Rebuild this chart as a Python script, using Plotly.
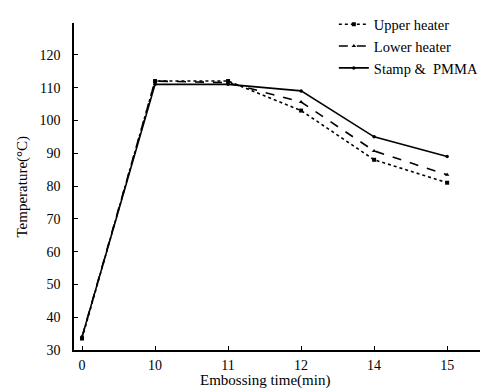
import plotly.graph_objects as go

times = ["0", "10", "11", "12", "14", "15"]
upper_heater = [33.5, 112, 112, 103, 88, 81]
lower_heater = [34, 112, 111.5, 105.6, 90.7, 83.4]
stamp_pmma = [34, 111, 111, 109, 95, 89]
y_ticks = [30, 40, 50, 60, 70, 80, 90, 100, 110, 120]
x_title = "Embossing time(min)"
y_title = "Temperature(°C)"

font_family = "Liberation Serif, Times New Roman, serif"

fig = go.Figure()
fig.add_trace(go.Scatter(
    x=times, y=upper_heater, name="Upper heater", mode="lines+markers",
    line=dict(color="black", width=1.6, dash="dot"),
    marker=dict(symbol="square", size=4, color="black")))
fig.add_trace(go.Scatter(
    x=times, y=lower_heater, name="Lower heater", mode="lines+markers",
    line=dict(color="black", width=1.6, dash="dash"),
    marker=dict(symbol="triangle-up", size=4, color="black")))
fig.add_trace(go.Scatter(
    x=times, y=stamp_pmma, name="Stamp &  PMMA", mode="lines+markers",
    line=dict(color="black", width=1.6),
    marker=dict(symbol="circle", size=3.5, color="black")))

fig.update_layout(
    width=491, height=388,
    margin=dict(l=66, r=19, t=15, b=46, autoexpand=False),
    paper_bgcolor="white", plot_bgcolor="white",
    font=dict(family=font_family, size=14, color="black"),
    showlegend=True,
    legend=dict(x=0.64, y=1.045, xanchor="left", yanchor="top",
                bgcolor="rgba(0,0,0,0)", font=dict(size=14.5),
                tracegroupgap=0, itemwidth=30),
    xaxis=dict(type="category", range=[-0.11, 5.45],
               showline=True, linecolor="black", linewidth=1.5,
               ticks="inside", ticklen=4, tickcolor="black",
               showgrid=False, zeroline=False, ticklabelstandoff=1),
    yaxis=dict(range=[30, 129.7], tickvals=y_ticks,
               showline=True, linecolor="black", linewidth=1.5,
               ticks="inside", ticklen=4, tickcolor="black",
               showgrid=False, zeroline=False, ticklabelstandoff=9),
    annotations=[
        dict(text=x_title, xref="paper", yref="paper", x=0.47, y=-0.092,
             xanchor="center", yanchor="middle", showarrow=False,
             font=dict(size=15)),
        dict(text=y_title, xref="paper", yref="paper", x=-0.128, y=0.5,
             xanchor="center", yanchor="middle", showarrow=False,
             textangle=-90, font=dict(size=15)),
    ],
)

fig.write_html("out.html")
